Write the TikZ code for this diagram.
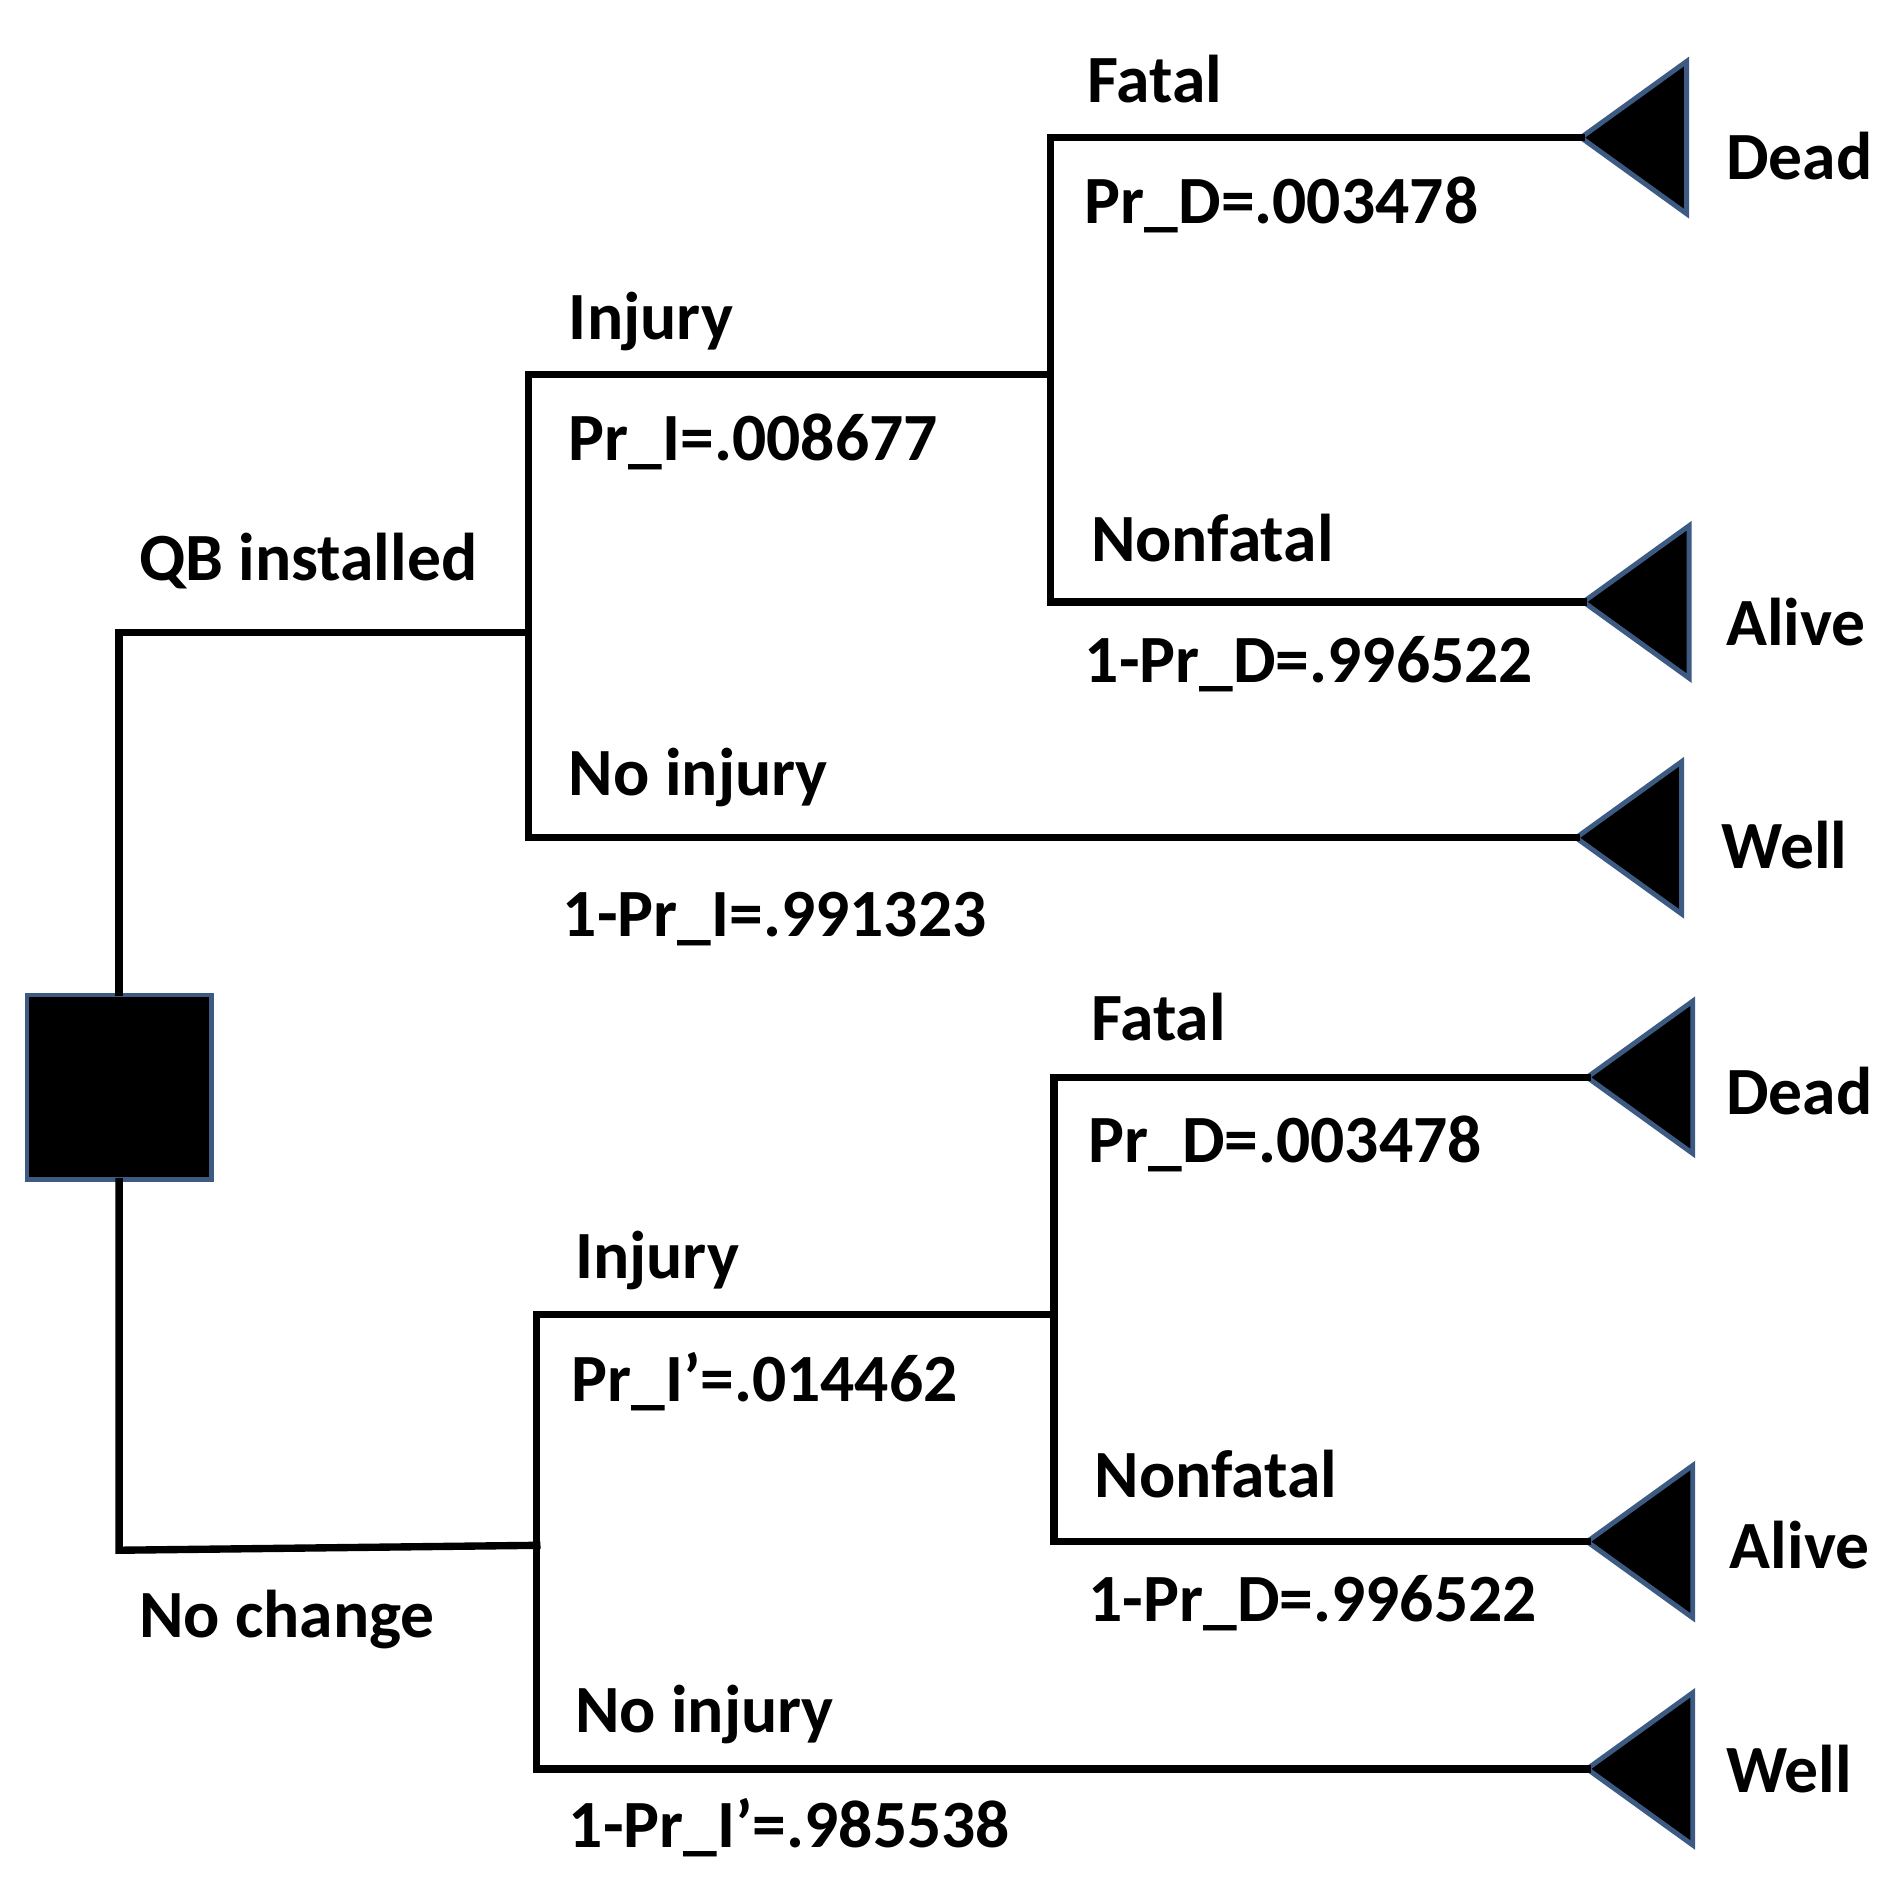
\documentclass[tikz,border=0pt]{standalone}
\usepackage{fontspec}
\setmainfont{Carlito}
\definecolor{edge}{RGB}{60,90,130}
\begin{document}
\begin{tikzpicture}[x=1pt,y=-1pt,
  br/.style={line width=6pt,line cap=rect},
  lab/.style={anchor=west,inner sep=0pt,font=\fontsize{55}{60}\selectfont\bfseries},
  tri/.style={fill=black,draw=edge,line width=4pt,line join=miter}]
\useasboundingbox (0,0) rectangle (1550,1532);
\newcommand{\leaf}[3]{% tip x, y, name
  \coordinate (#3) at (#1,#2);
  \filldraw[tri] (#3) -- ++(86,-62) -- ++(0,124) -- cycle;}
% decision square
\node[draw=edge,fill=black,line width=4pt,minimum size=150pt,inner sep=0pt] (root) at (97,885) {};
% coordinates
\coordinate (rt) at (97,515); \coordinate (rb) at (97,1262);
\coordinate (c1) at (430,515); \coordinate (c1t) at (430,305); \coordinate (c1b) at (430,682);
\coordinate (d1) at (855,305); \coordinate (d1t) at (855,112); \coordinate (d1b) at (855,490);
\coordinate (c2) at (437,1258); \coordinate (c2t) at (437,1070); \coordinate (c2b) at (437,1440);
\coordinate (d2) at (858,1070); \coordinate (d2t) at (858,877); \coordinate (d2b) at (858,1255);
\leaf{1287}{112}{l1}\leaf{1289}{490}{l2}\leaf{1283}{682}{l3}
\leaf{1292}{877}{l4}\leaf{1292}{1255}{l5}\leaf{1292}{1440}{l6}
% branches
\draw[br] (root.north) -- (rt) -- (c1);
\draw[br] (root.south) -- (rb) -- (c2);
\draw[br] (c1t) -- (c1b);
\draw[br] (c1t) -- (d1);
\draw[br] (c1b) -- (l3);
\draw[br] (d1t) -- (d1b);
\draw[br] (d1t) -- (l1);
\draw[br] (d1b) -- (l2);
\draw[br] (c2t) -- (c2b);
\draw[br] (c2t) -- (d2);
\draw[br] (c2b) -- (l6);
\draw[br] (d2t) -- (d2b);
\draw[br] (d2t) -- (l4);
\draw[br] (d2b) -- (l5);
% labels
\node[lab] (t1) at (113,457) {QB installed};
\node[lab] (t2) at (463,262) {Injury};
\node[lab] (t3) at (463,360) {Pr\_I=.008677};
\node[lab] (t4) at (463,633) {No injury};
\node[lab] (t5) at (458,748) {1-Pr\_I=.991323};
\node[lab] (t6) at (885,64) {Fatal};
\node[lab] (t7) at (883,167) {Pr\_D=.003478};
\node[lab] (t8) at (888,438) {Nonfatal};
\node[lab] (t9) at (883,541) {1-Pr\_D=.996522};
\node[lab] (t10) at (1405,127) {Dead};
\node[lab] (t11) at (1405,506) {Alive};
\node[lab] (t12) at (1401,688) {Well};
\node[lab] (u1) at (113,1318) {No change};
\node[lab] (u2) at (468,1026) {Injury};
\node[lab] (u3) at (465,1125) {Pr\_I’=.014462};
\node[lab] (u4) at (468,1396) {No injury};
\node[lab] (u5) at (463,1488) {1-Pr\_I’=.985538};
\node[lab] (u6) at (888,828) {Fatal};
\node[lab] (u7) at (886,931) {Pr\_D=.003478};
\node[lab] (u8) at (891,1200) {Nonfatal};
\node[lab] (u9) at (886,1305) {1-Pr\_D=.996522};
\node[lab] (u10) at (1405,888) {Dead};
\node[lab] (u11) at (1408,1258) {Alive};
\node[lab] (u12) at (1405,1440) {Well};
\end{tikzpicture}
\end{document}
